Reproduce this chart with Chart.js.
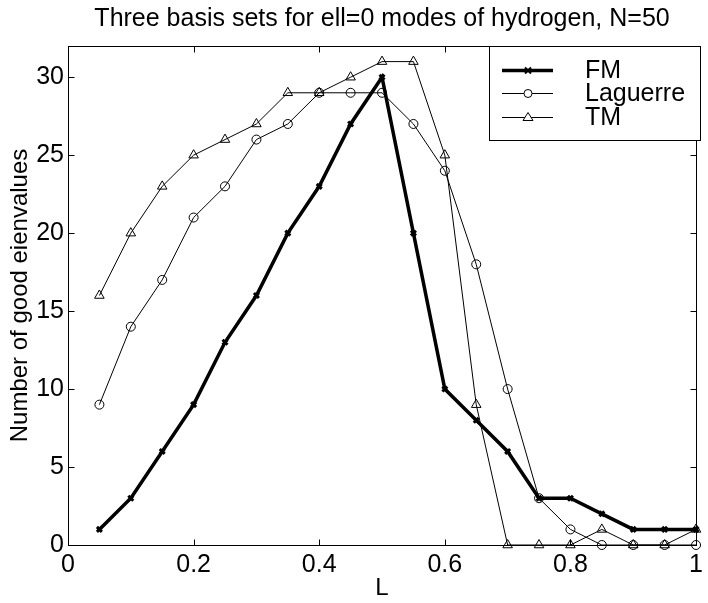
<!DOCTYPE html>
<html>
<head>
<meta charset="utf-8">
<script src="https://cdn.jsdelivr.net/npm/chart.js@4.4.1/dist/chart.umd.min.js"></script>
<style>
  html, body { margin: 0; padding: 0; background: #fff; }
  #wrap { width: 708px; height: 603px; }
</style>
</head>
<body>
<div id="wrap"><canvas id="basisChart"></canvas></div>
<script>
// L values (x axis)
const Lvals = [0.05, 0.1, 0.15, 0.2, 0.25, 0.3, 0.35, 0.4, 0.45, 0.5,
               0.55, 0.6, 0.65, 0.7, 0.75, 0.8, 0.85, 0.9, 0.95, 1];
// number of good eigenvalues per basis set
const fmVals       = [1, 3, 6, 9, 13, 16, 20, 23, 27, 30, 20, 10, 8, 6, 3, 3, 2, 1, 1, 1];
const laguerreVals = [9, 14, 17, 21, 23, 26, 27, 29, 29, 29, 27, 24, 18, 10, 3, 1, 0, 0, 0, 0];
const tmVals       = [16, 20, 23, 25, 26, 27, 29, 29, 30, 31, 31, 25, 9, 0, 0, 0, 1, 0, 0, 1];
const yTicks = [0, 5, 10, 15, 20, 25, 30];
const seriesNames = ['FM', 'Laguerre', 'TM'];

const pts = vals => vals.map((v, i) => ({ x: Lvals[i], y: v }));
const FONT = "'Liberation Sans', Arial, Helvetica, sans-serif";

// frame + inward ticks on all four sides, MATLAB style
const frameTicks = {
  id: 'frameTicks',
  afterDatasetsDraw(chart) {
    const { ctx, chartArea: a, scales } = chart;
    const L = Math.round(a.left) + 0.5, R = Math.round(a.right) + 0.5;
    const T = Math.round(a.top) + 0.5, B = Math.round(a.bottom) + 0.5;
    ctx.save();
    ctx.strokeStyle = '#000';
    ctx.lineWidth = 1;
    ctx.strokeRect(L, T, R - L, B - T);
    ctx.beginPath();
    scales.x.ticks.forEach(t => {
      const px = Math.round(scales.x.getPixelForValue(t.value)) + 0.5;
      ctx.moveTo(px, B); ctx.lineTo(px, B - 6);
      ctx.moveTo(px, T); ctx.lineTo(px, T + 6);
    });
    scales.y.ticks.forEach(t => {
      const py = Math.round(scales.y.getPixelForValue(t.value)) + 0.5;
      ctx.moveTo(L, py); ctx.lineTo(L + 6, py);
      ctx.moveTo(R, py); ctx.lineTo(R - 6, py);
    });
    ctx.stroke();
    ctx.restore();
  }
};

// boxed legend in the upper right corner
const boxLegend = {
  id: 'boxLegend',
  afterDraw(chart) {
    const { ctx, chartArea: a } = chart;
    const bx = 489.5, by = Math.round(a.top) + 0.5, bw = 211, bh = 94;
    ctx.save();
    ctx.fillStyle = '#fff';
    ctx.fillRect(bx, by, bw, bh);
    ctx.strokeStyle = '#000';
    ctx.lineWidth = 1;
    ctx.strokeRect(bx, by, bw, bh);
    const rows = [by + 24, by + 47, by + 71];
    chart.data.datasets.forEach((ds, i) => {
      const y = rows[i];
      ctx.strokeStyle = '#000';
      ctx.lineWidth = ds.borderWidth;
      ctx.beginPath();
      ctx.moveTo(502, y); ctx.lineTo(553, y);
      ctx.stroke();
      ctx.lineWidth = 1;
      ctx.beginPath();
      if (ds.pointStyle === 'crossRot') {
        ctx.lineWidth = 2;
        ctx.moveTo(525, y - 3); ctx.lineTo(531, y + 3);
        ctx.moveTo(531, y - 3); ctx.lineTo(525, y + 3);
      } else if (ds.pointStyle === 'circle') {
        ctx.fillStyle = '#fff';
        ctx.arc(528, y, 4, 0, Math.PI * 2);
        ctx.fill();
      } else {
        ctx.fillStyle = '#fff';
        ctx.moveTo(528, y - 5); ctx.lineTo(533, y + 3); ctx.lineTo(523, y + 3); ctx.closePath();
        ctx.fill();
      }
      ctx.stroke();
      ctx.fillStyle = '#000';
      ctx.font = '25px ' + FONT;
      ctx.textBaseline = 'middle';
      ctx.textAlign = 'left';
      ctx.fillText(ds.label, 585, y + 1);
    });
    ctx.restore();
  }
};

new Chart(document.getElementById('basisChart'), {
  type: 'line',
  data: {
    datasets: [
      {
        label: seriesNames[0],
        data: pts(fmVals),
        borderColor: '#000',
        borderWidth: 3.5,
        pointStyle: 'crossRot',
        pointRadius: 3.5,
        pointBorderWidth: 3,
        pointBorderColor: '#000',
        backgroundColor: '#000',
        clip: false,
        order: 3
      },
      {
        label: seriesNames[1],
        data: pts(laguerreVals),
        borderColor: '#000',
        borderWidth: 1,
        pointStyle: 'circle',
        pointRadius: 4.5,
        pointBorderWidth: 1,
        pointBorderColor: '#000',
        pointBackgroundColor: 'rgba(0,0,0,0)',
        clip: false,
        order: 2
      },
      {
        label: seriesNames[2],
        data: pts(tmVals),
        borderColor: '#000',
        borderWidth: 1,
        pointStyle: 'triangle',
        pointRadius: 5.5,
        pointBorderWidth: 1,
        pointBorderColor: '#000',
        pointBackgroundColor: 'rgba(0,0,0,0)',
        clip: false,
        order: 1
      }
    ]
  },
  options: {
    responsive: true,
    maintainAspectRatio: false,
    animation: false,
    layout: { padding: { left: 0, right: 6, top: 0, bottom: 0 } },
    plugins: {
      legend: { display: false },
      tooltip: { enabled: false },
      title: {
        display: true,
        fullSize: false,
        text: 'Three basis sets for ell=0 modes of hydrogen, N=50',
        color: '#000',
        font: { family: FONT, size: 25, weight: 'normal' },
        padding: { top: 4, bottom: 12 }
      }
    },
    scales: {
      x: {
        type: 'linear',
        min: 0,
        max: 1,
        grid: { display: false, drawTicks: false },
        border: { display: true, color: '#000', width: 1 },
        ticks: {
          stepSize: 0.2,
          color: '#000',
          padding: 5,
          maxRotation: 0,
          font: { family: FONT, size: 25 },
          callback: v => String(Number(v.toFixed(1)))
        },
        title: {
          display: true,
          text: 'L',
          color: '#000',
          font: { family: FONT, size: 24 },
          padding: { top: 0, bottom: 0 }
        },
        afterFit: s => { s.height = 58; }
      },
      y: {
        min: 0,
        max: 32,
        grid: { display: false, drawTicks: false },
        border: { display: true, color: '#000', width: 1 },
        afterBuildTicks: s => { s.ticks = yTicks.map(v => ({ value: v })); },
        ticks: {
          color: '#000',
          padding: 4,
          font: { family: FONT, size: 25 }
        },
        title: {
          display: true,
          text: 'Number of good eienvalues',
          color: '#000',
          font: { family: FONT, size: 24 },
          padding: { top: 6, bottom: 0 }
        },
        afterFit: s => { s.width = 68; }
      }
    }
  },
  plugins: [frameTicks, boxLegend]
});
</script>
</body>
</html>
